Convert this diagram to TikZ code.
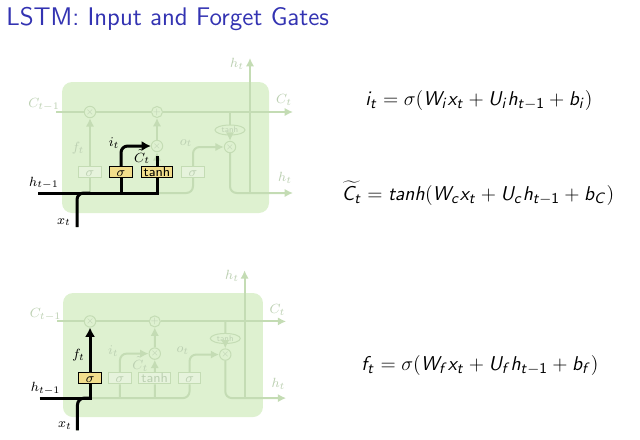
\documentclass[tikz,border=0pt]{standalone}
\usetikzlibrary{shapes.geometric,arrows.meta}
\definecolor{cellbg}{RGB}{222,241,208}
\definecolor{boxbg}{RGB}{230,243,220}
\definecolor{fadeln}{RGB}{196,220,180}
\definecolor{fadetx}{RGB}{188,208,178}
\definecolor{gateyel}{RGB}{242,222,140}
\definecolor{titleblue}{RGB}{51,51,178}
\DeclareMathAlphabet{\mathsi}{OT1}{cmss}{m}{sl}
\begin{document}
\begin{tikzpicture}[x=0.6pt,y=-0.6pt,
    fadeline/.style={draw=fadeln,line width=1.2pt},
    fadearrow/.style={fadeline,-{Latex[length=5pt,width=5pt]}},
    hiline/.style={draw=black,line width=1.8pt},
    hiarrow/.style={hiline,-{Latex[length=5.5pt,width=6pt]}},
    lbl/.style={font=\footnotesize,inner sep=0pt},
    fadelbl/.style={lbl,text=fadetx},
    hilbl/.style={text=black},
    gate/.style={rectangle,font=\sffamily\footnotesize,inner xsep=1.5pt,inner ysep=0.6pt,
        text height=5.6pt,text depth=0pt,minimum width=13.5pt},
    fadebox/.style={gate,draw=fadeln,fill=boxbg,text=fadetx,line width=0.6pt},
    hibox/.style={draw=black,fill=gateyel,text=black,line width=0.5pt},
    op/.style={circle,draw=fadeln,fill=cellbg,line width=0.6pt,minimum size=6pt,
        inner sep=0pt,font=\tiny,text=fadetx},
    tanhop/.style={ellipse,draw=fadeln,fill=cellbg,line width=0.6pt,minimum width=18pt,
        minimum height=6pt,inner sep=0pt,font=\sffamily\tiny,text=fadetx},
    eqn/.style={font=\fontsize{12.2}{14}\selectfont},
    % per-cell highlights, empty unless set on the pic
    on hprev/.style={}, on xcur/.style={}, on flbl/.style={},
    on ilbl/.style={}, on clbl/.style={},
    on sf/.style={}, on si/.style={}, on th/.style={},
    pics/lstm/.style={code={
        \fill[cellbg,rounded corners=6pt] (0,0) rectangle (207,131);
        % labels
        \node[fadelbl] (-cin)  at (-18,23)  {$C_{t-1}$};
        \node[fadelbl] (-cout) at (222,18)  {$C_t$};
        \node[fadelbl,on hprev] (-hin) at (-18,101) {$h_{t-1}$};
        \node[fadelbl,on xcur] (-xin) at (2,140) {$x_t$};
        \node[fadelbl] (-htop) at (175,-18) {$h_t$};
        \node[fadelbl] (-hout) at (223,96)  {$h_t$};
        \node[fadelbl,on flbl] (-flbl) at (16,66) {$f_t$};
        \node[fadelbl,on ilbl] (-ilbl) at (52,61) {$i_t$};
        \node[fadelbl,on clbl] (-clbl) at (80,75) {$\tilde{C}_t$};
        \node[fadelbl] (-olbl) at (124,61)  {$o_t$};
        % gates and operations
        \node[fadebox,on sf] (-sf) at (28,90)  {$\sigma$};
        \node[fadebox,on si] (-si) at (59,90)  {$\sigma$};
        \node[fadebox,on th] (-th) at (95,90)  {tanh};
        \node[fadebox] (-so)  at (131,90) {$\sigma$};
        \node[op]      (-mf)  at (28,30)  {$\times$};
        \node[op]      (-add) at (95,30)  {$+$};
        \node[op]      (-mi)  at (95,64)  {$\times$};
        \node[op]      (-mo)  at (168,65) {$\times$};
        \node[tanhop]  (-tc)  at (168,48) {tanh};
        \coordinate (-c0)   at (-6,30);
        \coordinate (-c1)   at (231,30);
        \coordinate (-ct)   at (168,30);
        \coordinate (-h0)   at (-24,111);
        \coordinate (-h1)   at (231,111);
        \coordinate (-x0)   at (15,145);
        \coordinate (-bf)   at (28,111);
        \coordinate (-bi)   at (59,111);
        \coordinate (-bt)   at (95,111);
        \coordinate (-hj)   at (188,111);
        \coordinate (-ht)   at (188,-24);
        \coordinate (-ctop) at (95,74);
        % connectors
        \draw[fadearrow] (-c0) -- (-mf) -- (-add) -- (-c1);
        \draw[fadeline] (-ct) -- (-tc);
        \draw[fadearrow] (-tc) -- (-mo);
        \draw[fadearrow] (-sf) -- (-mf);
        \draw[fadearrow,rounded corners=4pt] (-si) |- (-mi);
        \draw[fadearrow] (-th) -- (-mi);
        \draw[fadearrow] (-mi) -- (-add);
        \draw[fadearrow,rounded corners=4pt] (-so) |- (-mo);
        \draw[fadearrow,rounded corners=4pt] (-mo) |- (-h1);
        \draw[fadearrow] (-hj) -- (-ht);
        \draw[fadeline,rounded corners=4pt] (-h0) -| (-so);
        \draw[fadeline] (-bf) -- (-sf);
        \draw[fadeline] (-bi) -- (-si);
        \draw[fadeline] (-bt) -- (-th);
        \draw[fadeline,rounded corners=4pt] (-x0) |- (-bf);
    }}
]
\useasboundingbox (0,0) rectangle (640,439);

\node[anchor=base west,inner sep=0pt,text=titleblue,font=\sffamily\fontsize{15.3}{18}\selectfont] (title) at (6,25)
    {LSTM: Input and Forget Gates};

% input gate
\pic[on hprev/.style=hilbl, on xcur/.style=hilbl, on ilbl/.style=hilbl,
     on clbl/.style=hilbl, on si/.style=hibox, on th/.style=hibox] (A) at (62,82) {lstm};
\draw[hiline] (A-h0) -| (A-th);
\draw[hiline,rounded corners=4pt] (A-x0) |- (A-bf);
\draw[hiline] (A-bi) -- (A-si);
\draw[hiarrow,rounded corners=4pt] (A-si) |- (A-mi);
\draw[hiline] (A-th) -- (A-ctop);

% forget gate
\pic[xscale=0.966,yscale=0.947, on hprev/.style=hilbl, on xcur/.style=hilbl,
     on flbl/.style=hilbl, on sf/.style=hibox] (B) at (63,293) {lstm};
\draw[hiline] (B-h0) -| (B-sf);
\draw[hiline,rounded corners=4pt] (B-x0) |- (B-bf);
\draw[hiarrow] (B-sf) -- (B-mf);

% equations
\node[eqn] (eqi) at (479,100) {$\mathsi{i_t = \sigma(W_i x_t + U_i h_{t-\mathsf{1}} + b_i)}$};
\node[eqn] (eqc) at (478,193) {$\mathsi{\widetilde{C_t} = tanh(W_c x_t + U_c h_{t-\mathsf{1}} + b_C)}$};
\node[eqn] (eqf) at (480,365) {$\mathsi{f_t = \sigma(W_f x_t + U_f h_{t-\mathsf{1}} + b_f)}$};
\end{tikzpicture}
\end{document}
